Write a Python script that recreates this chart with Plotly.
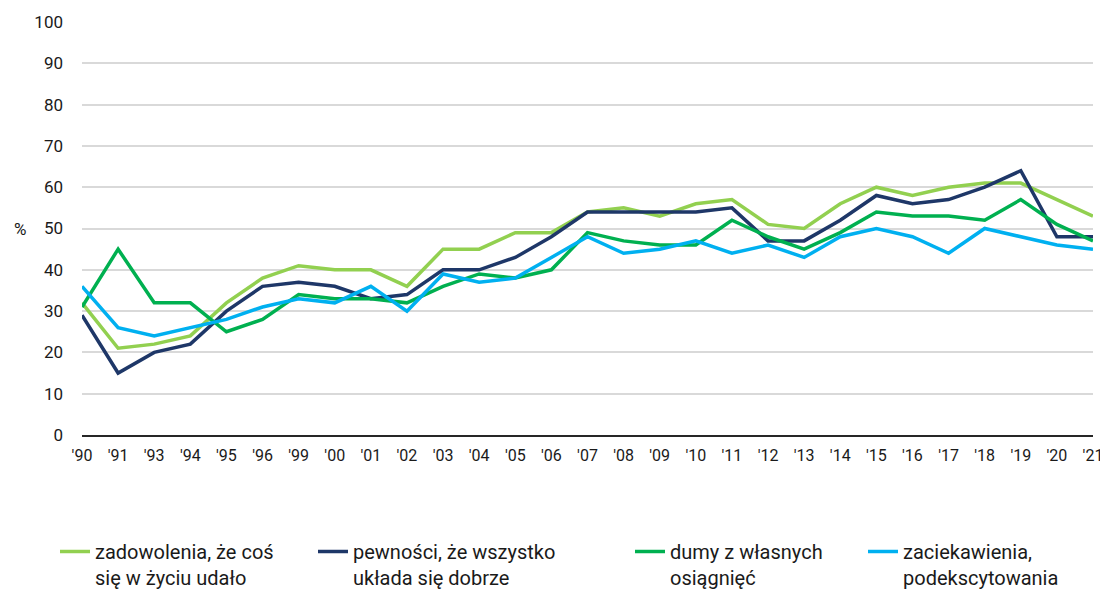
import plotly.graph_objects as go

years = ["'90", "'91", "'93", "'94", "'95", "'96", "'99", "'00", "'01", "'02", "'03", "'04", "'05", "'06",
         "'07", "'08", "'09", "'10", "'11", "'12", "'13", "'14", "'15", "'16", "'17", "'18", "'19", "'20", "'21"]

zadowolenia = [32, 21, 22, 24, 32, 38, 41, 40, 40, 36, 45, 45, 49, 49, 54, 55, 53, 56, 57, 51, 50, 56, 60, 58, 60, 61, 61, 57, 53]
pewnosci = [29, 15, 20, 22, 30, 36, 37, 36, 33, 34, 40, 40, 43, 48, 54, 54, 54, 54, 55, 47, 47, 52, 58, 56, 57, 60, 64, 48, 48]
dumy = [31, 45, 32, 32, 25, 28, 34, 33, 33, 32, 36, 39, 38, 40, 49, 47, 46, 46, 52, 48, 45, 49, 54, 53, 53, 52, 57, 51, 47]
zaciekawienia = [36, 26, 24, 26, 28, 31, 33, 32, 36, 30, 39, 37, 38, 43, 48, 44, 45, 47, 44, 46, 43, 48, 50, 48, 44, 50, 48, 46, 45]

names = ["zadowolenia, że coś<br>się w życiu udało",
         "pewności, że wszystko<br>układa się dobrze",
         "dumy z własnych<br>osiągnięć",
         "zaciekawienia,<br>podekscytowania"]
values = [zadowolenia, pewnosci, dumy, zaciekawienia]
colors = ["#92d050", "#1e3768", "#00b050", "#00b0f0"]
legend_ids = ["legend", "legend2", "legend3", "legend4"]

W, H = 1100, 583
fig = go.Figure()
for name, vals, color, lg in zip(names, values, colors, legend_ids):
    fig.add_trace(go.Scatter(x=years, y=vals, name=name, mode="lines", legend=lg,
                             line=dict(color=color, width=3.5), cliponaxis=False))

legend_text_x = [89, 347, 664, 897]
legend_common = dict(orientation="h", xref="container", yref="container", xanchor="left",
                     yanchor="top", y=1 - 524 / H, valign="top",
                     font=dict(size=20, color="#1a1a1a"), bgcolor="rgba(0,0,0,0)")
layout_legends = {}
for lg, tx in zip(legend_ids, legend_text_x):
    layout_legends[lg] = dict(legend_common, x=(tx - 42) / W)

fig.update_layout(
    width=W, height=H,
    margin=dict(l=74, r=15, t=14, b=156),
    plot_bgcolor="white", paper_bgcolor="white",
    font=dict(family="Roboto", size=16, color="#1a1a1a"),
    showlegend=True,
    xaxis=dict(type="category", range=[0, 28], showgrid=False, showline=True, automargin=False,
               linecolor="#262626", linewidth=1.5, ticks="", ticklabelstandoff=5,
               tickfont=dict(size=16)),
    yaxis=dict(range=[0, 100], dtick=10, showgrid=True, gridcolor="#d9d9d9", gridwidth=2,
               zeroline=False, showline=False, ticks="", ticklabelstandoff=18, automargin=False,
               tickfont=dict(size=17)),
    annotations=[dict(text="%", xref="paper", yref="y", x=(12 - 74) / 1011, y=50, xanchor="center",
                      yanchor="middle", showarrow=False, font=dict(size=17))],
    **layout_legends,
)

fig.write_html("out.html")
